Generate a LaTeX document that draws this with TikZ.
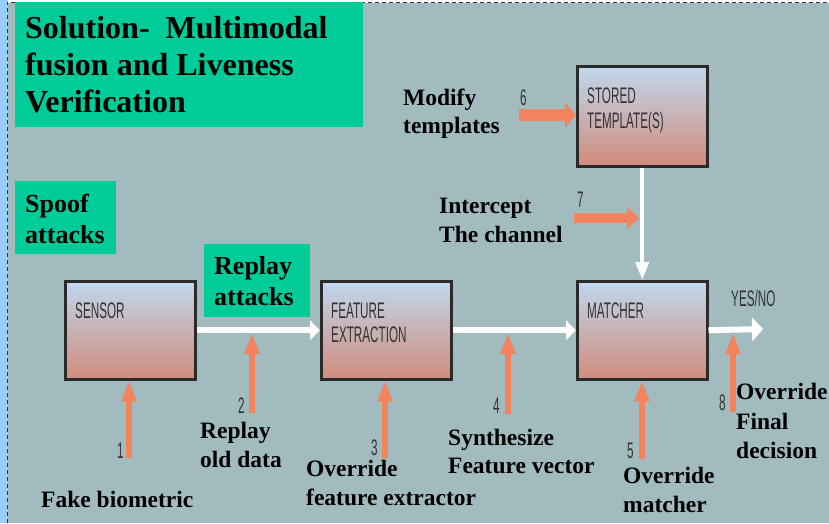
\documentclass[tikz,border=0pt]{standalone}
\usepackage{fontspec}
\setmainfont{Liberation Serif}
\newfontfamily\condfont[FakeStretch=0.52]{Liberation Sans}
\usetikzlibrary{arrows.meta}
\definecolor{bgray}{HTML}{A2BBBE}
\definecolor{stripblue}{HTML}{99CCFF}
\definecolor{dashblue}{HTML}{223366}
\definecolor{greenfill}{HTML}{00CC99}
\definecolor{boxtop}{HTML}{C0D8EE}
\definecolor{boxbot}{HTML}{D08C7C}
\definecolor{boxedge}{HTML}{2A2A2A}
\definecolor{attack}{HTML}{F4845F}
\definecolor{boxtext}{HTML}{333333}
\tikzset{
  greenbox/.style={fill=greenfill, draw=none, anchor=north west, inner sep=0},
  procbox/.style={top color=boxtop, bottom color=boxbot, draw=boxedge, line width=2.5pt,
    minimum width=130pt, minimum height=98pt, anchor=north west, inner sep=0},
  titletxt/.style={font=\fontsize{32}{37}\selectfont\bfseries, anchor=base west, inner sep=0},
  greentxt/.style={font=\fontsize{26}{31}\selectfont\bfseries, anchor=base west, inner sep=0},
  lbl/.style={font=\fontsize{23.5}{29}\selectfont\bfseries, anchor=base west, inner sep=0},
  boxlbl/.style={font=\condfont\fontsize{22.5}{26}\selectfont, text=boxtext, anchor=base west, inner sep=0},
  whitearrow/.style={draw=white, line width=6pt, -{Triangle[length=10pt,width=19pt]}},
  whitevarrow/.style={draw=white, line width=4pt, -{Triangle[length=18pt,width=13pt]}},
  orangev/.style={draw=attack, line width=6pt, -{Triangle[length=21pt,width=14pt]}},
  orangeh/.style={draw=attack, line width=12pt, -{Triangle[length=11pt,width=25pt]}},
}
\begin{document}
\begin{tikzpicture}[x=1pt,y=-1pt]
\useasboundingbox (0,0) rectangle (829,523);
% background
\fill[stripblue] (0,0) rectangle (8,523);
\fill[white] (8,0) rectangle (829,3);
\fill[bgray] (8,3) rectangle (829,523);
\draw[dashblue, line width=1pt, dash pattern=on 4pt off 3pt] (7,523) -- (7,2) -- (829,2);

% green boxes
\node[greenbox, minimum width=348pt, minimum height=125pt] (titlebox) at (15,2) {};
\node[titletxt] (ttl1) at (25,38) {Solution-\ \ Multimodal};
\node[titletxt] (ttl2) at (25,75) {fusion and Liveness};
\node[titletxt] (ttl3) at (25,112) {Verification};

\node[greenbox, minimum width=101pt, minimum height=73pt] (spoofbox) at (15,181) {};
\node[greentxt] (sp1) at (25,212) {Spoof};
\node[greentxt] (sp2) at (25,243) {attacks};

\node[greenbox, minimum width=106pt, minimum height=73pt] (replaybox) at (204,244) {};
\node[greentxt] (rp1) at (214,274) {Replay};
\node[greentxt] (rp2) at (214,305) {attacks};

% process boxes
\node[procbox] (sensor) at (64,280) {};
\node[procbox] (feature) at (320,280) {};
\node[procbox] (matcher) at (576,280) {};
\node[procbox, minimum height=100pt] (stored) at (576,65) {};

\node[boxlbl] (sensorlbl) at (75,318) {SENSOR};
\node[boxlbl] (featlbl1) at (331,318) {FEATURE};
\node[boxlbl] (featlbl2) at (331,342) {EXTRACTION};
\node[boxlbl] (matchlbl) at (587,318) {MATCHER};
\node[boxlbl] (storlbl1) at (587,103) {STORED};
\node[boxlbl] (storlbl2) at (587,128) {TEMPLATE(S)};
\node[boxlbl] (yesno) at (731,306) {YES/NO};

% white flow arrows
\coordinate (outend) at (763,329);
\draw[whitearrow] (sensor.east) -- (feature.west);
\draw[whitearrow] (feature.east) -- (matcher.west);
\draw[draw=white, line width=6pt, -{Triangle[length=11pt,width=24pt]}] (matcher.east) -- (outend);
\draw[whitevarrow] (stored.south) -- (matcher.north);

% attack arrows
\coordinate (a1s) at (129,458);
\coordinate (a2s) at (252,413); \coordinate (a2e) at (252,333);
\coordinate (a3s) at (385,458);
\coordinate (a4s) at (508,414); \coordinate (a4e) at (508,333);
\coordinate (a5s) at (642,459);
\coordinate (a6s) at (519,115);
\coordinate (a7s) at (574,218); \coordinate (a7e) at (639,218);
\coordinate (a8s) at (733,412); \coordinate (a8e) at (733,333);
\draw[orangev] (a1s) -- (a1s |- sensor.south);
\draw[orangev] (a2s) -- (a2e);
\draw[orangev] (a3s) -- (a3s |- feature.south);
\draw[orangev] (a4s) -- (a4e);
\draw[orangev] (a5s) -- (a5s |- matcher.south);
\draw[orangeh] (a6s) -- (a6s -| stored.west);
\draw[orangeh, line width=10pt, -{Triangle[length=12pt,width=22pt]}] (a7s) -- (a7e);
\draw[orangev] (a8s) -- (a8e);

% attack numbers
\node[boxlbl] (n1) at (117,458) {1};
\node[boxlbl] (n2) at (238,413) {2};
\node[boxlbl] (n3) at (371,455) {3};
\node[boxlbl] (n4) at (493,413) {4};
\node[boxlbl] (n5) at (627,458) {5};
\node[boxlbl] (n6) at (520,105) {6};
\node[boxlbl] (n7) at (577,207) {7};
\node[boxlbl] (n8) at (719,410) {8};

% attack labels
\node[lbl] (mod1) at (403,105) {Modify};
\node[lbl] (mod2) at (403,133) {templates};
\node[lbl] (int1) at (439,213) {Intercept};
\node[lbl] (int2) at (439,242) {The channel};
\node[lbl] (fake) at (41,507) {Fake biometric};
\node[lbl] (rep1) at (200,438) {Replay};
\node[lbl] (rep2) at (200,467) {old data};
\node[lbl] (ovf1) at (306,476) {Override};
\node[lbl] (ovf2) at (306,505) {feature extractor};
\node[lbl] (syn1) at (448,445) {Synthesize};
\node[lbl] (syn2) at (448,473) {Feature vector};
\node[lbl] (ovm1) at (623,483) {Override};
\node[lbl] (ovm2) at (623,512) {matcher};
\node[lbl] (ovd1) at (736,399) {Override};
\node[lbl] (ovd2) at (736,429) {Final};
\node[lbl] (ovd3) at (736,458) {decision};
\end{tikzpicture}
\end{document}
